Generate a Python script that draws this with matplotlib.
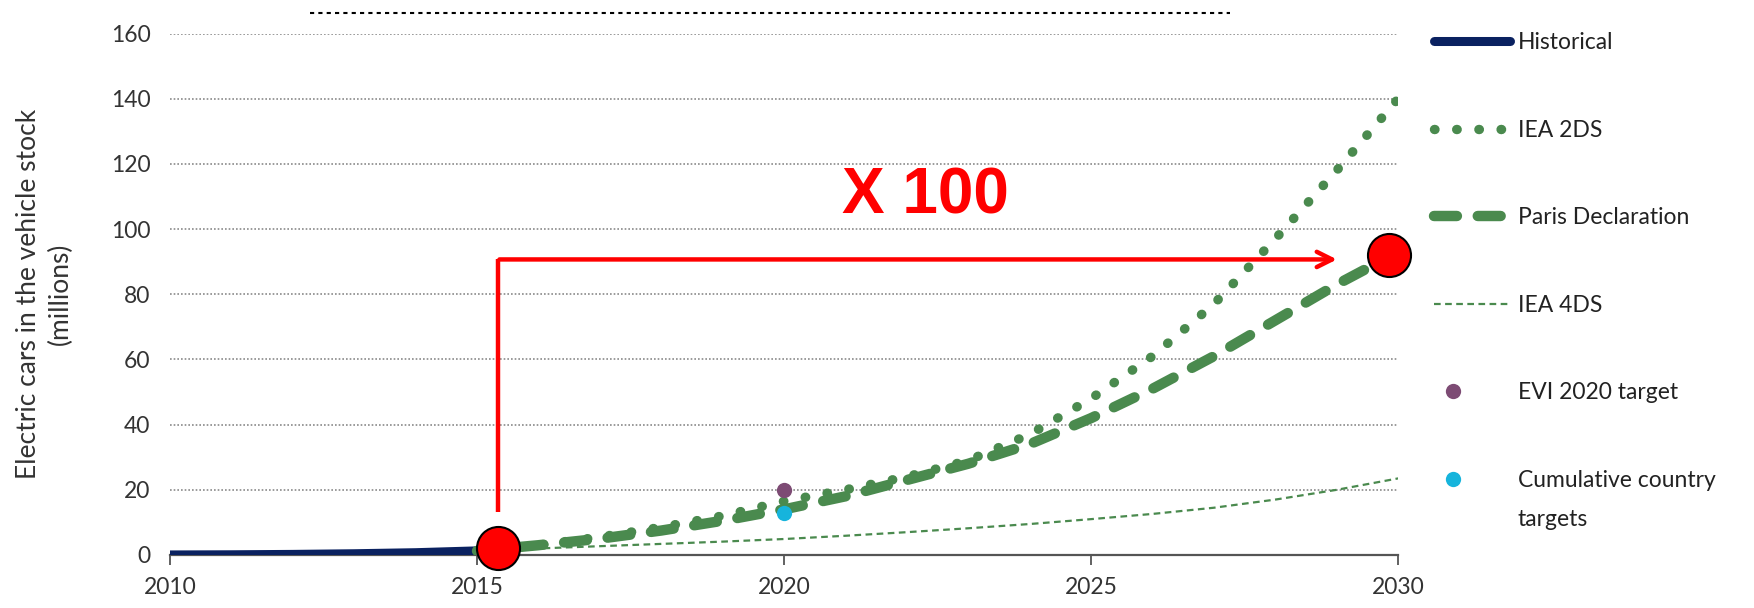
import matplotlib.pyplot as plt
from matplotlib.lines import Line2D
from matplotlib.legend_handler import HandlerLine2D

# electric car stock, millions
hist_years = [2010, 2011, 2012, 2013, 2014, 2015]
hist_stock = [0.01, 0.06, 0.18, 0.38, 0.7, 1.26]

proj_years = list(range(2015, 2031))
iea_2ds = [1.26, 3, 5.5, 8.5, 12, 16.5, 20, 24, 29, 37, 48, 61, 77, 97, 118, 140]
paris = [1.26, 3, 5, 7.5, 10.5, 14, 18, 23, 28, 34, 42, 51, 61, 72, 83, 93]
iea_4ds = [1.26, 2, 2.7, 3.4, 4.1, 4.9, 5.9, 7, 8.2, 9.5, 11, 12.6, 14.5, 17, 20, 23.5]

evi_year, evi_target = 2020, 20
country_year, country_target = 2020, 13

# the "x 100" callout
start_pt = (2015.35, 2)
end_pt = (2029.85, 92)
arrow_y = 90.7
arrow_bottom = 13.2
arrow_end_x = 2029.05

green = '#4a8a4e'
navy = '#0a2160'
text_col = '#333333'


class LeftMarkerHandler(HandlerLine2D):
    # put a lone legend marker near the left end of the handle
    def get_xdata(self, legend, xdescent, ydescent, width, height, fontsize):
        x = -xdescent + width * 0.25
        return [x, x], [x]


plt.rcParams['font.family'] = ['Lato', 'DejaVu Sans']

fig = plt.figure(figsize=(17.54, 6.08), dpi=100)
ax = fig.add_axes([0.0969, 0.0872, 0.7002, 0.8575])

ax.plot(hist_years, hist_stock, color=navy, lw=6.5, solid_capstyle='butt',
        label='Historical', zorder=3)
ax.plot(proj_years, iea_2ds, color=green, lw=6.8, linestyle=(0, (0.05, 2.3)),
        dash_capstyle='round', label='IEA 2DS', zorder=3)
ax.plot(proj_years, paris, color=green, lw=7.5, linestyle=(0, (2.2, 2.0)),
        dash_capstyle='round', label='Paris Declaration', zorder=3)
ax.plot(proj_years, iea_4ds, color=green, lw=1.6, linestyle=(0, (3, 2)),
        label='IEA 4DS', zorder=3)
evi, = ax.plot([evi_year], [evi_target], 'o', color='#7d4b74', ms=11, mew=0,
               label='EVI 2020 target', zorder=4)
ctry, = ax.plot([country_year], [country_target], 'o', color='#16b4dc', ms=11,
                mew=0, label='Cumulative country', zorder=4)

# red arrow and markers
ax.plot([start_pt[0], start_pt[0]], [arrow_bottom, arrow_y], color='red',
        lw=3.2, solid_capstyle='butt', zorder=5)
ax.annotate('', xy=(arrow_end_x, arrow_y), xytext=(start_pt[0] - 0.03, arrow_y),
            arrowprops=dict(arrowstyle='->,head_length=1.1,head_width=0.55',
                            color='red', lw=3.2), zorder=5)
ax.plot(*start_pt, 'o', ms=31, mfc='red', mec='black', mew=1.5, zorder=6,
        clip_on=False)
ax.plot(*end_pt, 'o', ms=31, mfc='red', mec='black', mew=1.5, zorder=6,
        clip_on=False)
ax.text(2022.3, 110, 'X 100', color='red', fontsize=46, fontweight='bold',
        family='Liberation Sans', ha='center', va='center', zorder=6)

ax.set_xlim(2010, 2030)
ax.set_ylim(0, 160)
ax.set_xticks([2010, 2015, 2020, 2025, 2030])
ax.set_yticks(range(0, 161, 20))
ax.yaxis.grid(True, color='#8a8a8a', lw=1.2, linestyle=(0, (1, 1.2)))
ax.set_axisbelow(True)
for s in ['top', 'right', 'left']:
    ax.spines[s].set_visible(False)
ax.spines['bottom'].set_color('#555555')
ax.spines['bottom'].set_linewidth(1.6)
ax.tick_params(axis='y', length=0, pad=14, labelsize=16.5, labelcolor=text_col)
ax.tick_params(axis='x', length=7, width=1.3, color='#555555', pad=9,
               labelsize=16.5, labelcolor=text_col)
ax.set_ylabel('Electric cars in the vehicle stock\n(millions)', fontsize=19,
              color=text_col, labelpad=27, linespacing=1.35)

leg = ax.legend(loc='upper left', bbox_to_anchor=(0.8125, 0.962),
                bbox_transform=fig.transFigure, frameon=False, fontsize=16.5,
                handlelength=3.3, handletextpad=0.35, labelspacing=2.9,
                numpoints=1, borderaxespad=0,
                handler_map={evi: LeftMarkerHandler(), ctry: LeftMarkerHandler()})
leg.legend_handles[0].set_solid_capstyle('round')
for t in leg.get_texts():
    t.set_color('#222222')

# second line of the last legend label, set just under the first
fig.canvas.draw()
last = leg.get_texts()[-1]
bb = last.get_window_extent().transformed(fig.transFigure.inverted())
fig.text(bb.x0, bb.y0 - 39 / 608, 'targets', fontsize=16.5, color='#222222',
         ha='left', va='bottom')

# dashed rule across the top
fig.add_artist(Line2D([0.177, 0.701], [0.979, 0.979], color='black', lw=1.5,
                      linestyle=(0, (2, 2))))

fig.savefig('out.png', dpi=100)
